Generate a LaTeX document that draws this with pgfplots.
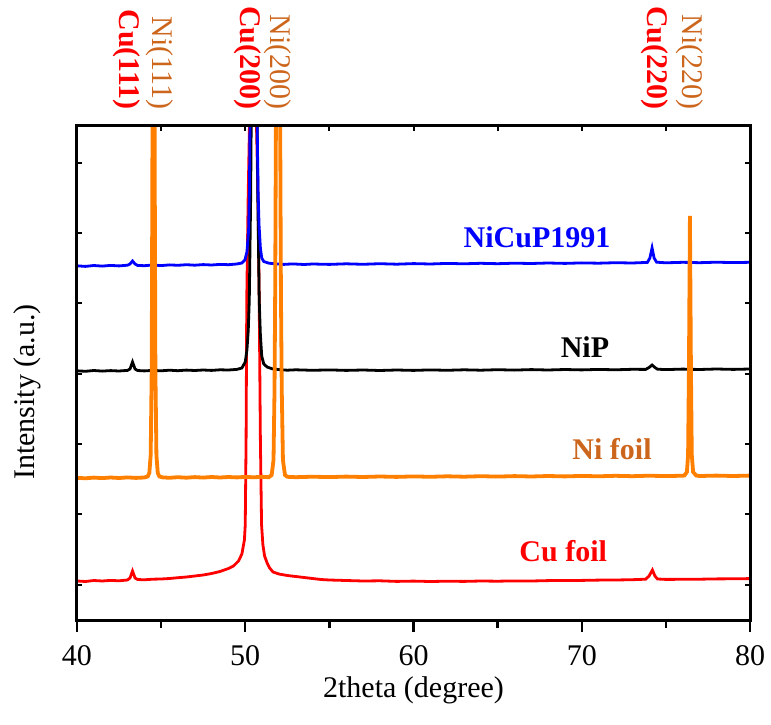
\documentclass[border=0pt]{standalone}
\usepackage{fontspec}
\setmainfont{Liberation Serif}
\usepackage{pgfplots}
\pgfplotsset{compat=1.18}
\definecolor{cured}{RGB}{255,0,0}
\definecolor{niorange}{RGB}{255,128,0}
\definecolor{nilab}{RGB}{205,102,29}
\definecolor{cublue}{RGB}{0,0,255}
\newcommand\fs{\fontsize{15}{18}\selectfont}
\begin{document}
\begin{tikzpicture}
\begin{axis}[
  scale only axis, width=336.5pt, height=247pt,
  xmin=40, xmax=80, ymin=0, ymax=494,
  xtick={40,50,...,80}, minor x tick num=1,
  xtick pos=left, tick align=outside,
  major tick length=6pt, minor tick length=4pt,
  ytick=\empty,
  axis line style={line width=1.5pt},
  every tick/.style={black, line width=1.2pt},
  /pgf/number format/assume math mode=true,
  tick label style={font=\fs},
  xticklabel style={yshift=-3pt},
  xlabel={2theta (degree)},
  ylabel={Intensity (a.u.)},
  xlabel style={at={(axis description cs:0.5,0)}, anchor=center, yshift=-35pt, font=\fs},
  ylabel style={at={(axis description cs:-0.0743,0.4615)}, anchor=center, font=\fs},
  clip=true,
]
% Cu foil
\addplot[cured, line width=1.4pt] coordinates {
(40,39) (40.5,38.5) (41,39.5) (41.5,39) (42,39.6) (42.5,39.2) (43,40) (43.15,42) (43.3,49) (43.45,42) (43.6,40.5)
(44,40.2) (44.5,40.8) (45,41) (45.5,41.5) (46,42.3) (46.5,43) (47,44) (47.5,45) (48,46.5) (48.5,48.5) (49,51.5)
(49.3,54) (49.6,59) (49.8,66) (49.95,80) (50.0,95) (50.05,180) (50.09,320) (50.17,420) (50.25,494) (50.35,620)
(50.46,700) (50.57,620) (50.67,494) (50.76,420) (50.83,320) (50.9,180) (50.97,95) (51.05,75) (51.15,64)
(51.3,57) (51.45,52) (51.65,48) (52,46) (52.5,44.5) (53,43.5) (53.5,42.5) (54,41.5) (54.5,40.5) (55,40)
(56,39.5) (57,39) (58,39.2) (59,38.6) (60,38.9) (61,38.5) (62,38.8) (63,38.6) (64,39) (65,38.8) (66,39.1)
(67,39) (68,39.4) (69,39.5) (70,39.6) (71,39.9) (72,40) (73,40.3) (73.8,40.8) (74.0,44) (74.2,50) (74.35,44)
(74.5,41) (75,40.6) (76,40.7) (77,40.8) (78,41.1) (79,41.2) (80,41.4)
};
% NiP
\addplot[black, line width=1.4pt] coordinates {
(40,249.2) (40.5,248.7) (41,249.5) (41.5,248.9) (42,249.4) (42.5,249) (43,249.6) (43.15,251) (43.3,258) (43.45,251)
(43.6,249.5) (44,249.1) (44.5,249.6) (45,249.2) (45.5,249.8) (46,249.3) (46.5,249.9) (47,249.5) (47.5,250)
(48,249.6) (48.5,250.2) (49,250) (49.5,250.6) (49.8,252) (50.0,258) (50.1,270) (50.18,290) (50.24,320)
(50.32,420) (50.4,600) (50.53,800) (50.66,600) (50.75,420) (50.83,320) (50.9,285) (50.98,264) (51.1,256)
(51.3,253) (51.6,251.2) (52,250.4) (52.5,249.8) (53,250.2) (54,249.7) (55,250.1) (56,249.6) (57,250) (58,249.5)
(59,250) (60,249.6) (61,250.1) (62,249.7) (63,250.2) (64,249.8) (65,250.3) (66,249.9) (67,250.4) (68,250)
(69,250.5) (70,250.1) (71,250.6) (72,250.2) (73,250.7) (73.8,250.6) (74.0,252.5) (74.18,255) (74.35,252.5)
(74.5,250.8) (75,250.4) (76,250.9) (77,250.5) (78,251) (79,250.6) (80,251)
};
% NiCuP1991
\addplot[cublue, line width=1.4pt] coordinates {
(40,354.2) (40.5,353.6) (41,354.5) (41.5,353.9) (42,354.6) (42.5,354.1) (43,354.8) (43.15,356) (43.3,359) (43.45,356)
(43.6,354.6) (44,354.3) (44.5,355) (45,354.4) (45.5,355.1) (46,354.7) (46.5,355.3) (47,354.8) (47.5,355.4)
(48,355) (48.5,355.6) (49,355.3) (49.5,356) (49.8,357) (49.98,360) (50.1,368) (50.2,390) (50.25,430) (50.28,494)
(50.35,650) (50.5,900) (50.65,650) (50.71,494) (50.76,430) (50.82,395) (50.9,372) (50.98,362) (51.1,358.5)
(51.4,356.8) (51.8,356.2) (52.3,355.6) (52.8,356.1) (53.5,355.5) (54,356) (55,355.6) (56,356.2) (57,355.7)
(58,356.3) (59,355.8) (60,356.4) (61,356) (62,356.6) (63,356.2) (64,356.7) (65,356.3) (66,356.8) (67,356.5)
(68,357) (69,356.6) (70,357.1) (71,356.8) (72,357.3) (73,357) (73.9,357.6) (74.05,362) (74.18,372) (74.3,362)
(74.45,357.8) (75,357.2) (76,357.7) (77,357.3) (78,357.8) (79,357.4) (80,357.7)
};
% Ni foil
\addplot[niorange, line width=1.9pt] coordinates {
(40,142.2) (40.5,141.7) (41,142.4) (41.5,141.9) (42,142.5) (42.5,142) (43,142.6) (43.5,142.1) (44,142.5)
(44.2,143.5) (44.3,147) (44.38,165) (44.44,250) (44.48,450) (44.55,1000) (44.62,450) (44.66,250) (44.72,165)
(44.8,147) (44.9,143.5) (45.1,142.6) (45.5,142.2) (46,142.8) (46.5,142.3) (47,142.9) (47.5,142.4) (48,143)
(48.5,142.5) (49,143) (49.5,142.6) (50,143.1) (50.5,142.7) (51,143.2) (51.4,142.8) (51.57,145) (51.68,160)
(51.74,230) (51.78,330) (51.85,600) (51.95,900) (52.05,600) (52.12,330) (52.17,230) (52.24,160) (52.36,145)
(52.5,143.2) (53,142.8) (54,143.3) (55,142.9) (56,143.4) (57,143) (58,143.5) (59,143.1) (60,143.6) (61,143.2)
(62,143.7) (63,143.3) (64,143.8) (65,143.4) (66,143.9) (67,143.5) (68,144) (69,143.6) (70,144.1) (71,143.7)
(72,144.2) (73,143.8) (74,144.3) (75,143.9) (76,144.3) (76.1,144.5) (76.25,148) (76.32,165) (76.37,250)
(76.43,404) (76.49,250) (76.54,165) (76.62,148) (76.8,144.5) (77,144) (78,144.4) (79,144) (80,144.4)
};
\coordinate (SW) at (rel axis cs:0,0);
\coordinate (NE) at (rel axis cs:1,1);
\end{axis}
\begin{axis}[
  scale only axis, width=336.5pt, height=247pt,
  xmin=40, xmax=80, ymin=0, ymax=494,
  xtick={40,45,...,80}, xtick pos=right, xticklabels={},
  ytick={35.5,105.8,176.1,246.4,316.7,387,457.3}, yticklabels={}, ytick pos=both,
  tick align=inside, major tick length=2.5pt,
  axis line style={line width=1.5pt},
  every tick/.style={black, line width=1pt},
  clip=false,
]
\node[font=\fs\bfseries, text=cublue] at (axis cs:67.34,383) {NiCuP1991};
\node[font=\fs\bfseries, text=black] at (axis cs:70.19,273) {NiP};
\node[font=\fs\bfseries, text=nilab] at (axis cs:71.8,171) {Ni foil};
\node[font=\fs\bfseries, text=cured] at (axis cs:68.9,69) {Cu foil};
\node[font=\fs\bfseries, text=cured, rotate=-90, anchor=east, inner sep=0pt] at ([yshift=8pt]axis cs:42.97,494) {Cu(111)};
\node[font=\fs, text=nilab, rotate=-90, anchor=east, inner sep=0pt] at ([yshift=8pt]axis cs:44.93,494) {Ni(111)};
\node[font=\fs\bfseries, text=cured, rotate=-90, anchor=east, inner sep=0pt] at ([yshift=8pt]axis cs:50.16,494) {Cu(200)};
\node[font=\fs, text=nilab, rotate=-90, anchor=east, inner sep=0pt] at ([yshift=8pt]axis cs:51.95,494) {Ni(200)};
\node[font=\fs\bfseries, text=cured, rotate=-90, anchor=east, inner sep=0pt] at ([yshift=8pt]axis cs:74.35,494) {Cu(220)};
\node[font=\fs, text=nilab, rotate=-90, anchor=east, inner sep=0pt] at ([yshift=8pt]axis cs:76.43,494) {Ni(220)};
\end{axis}
\pgfresetboundingbox
\path ([xshift=-38.5pt,yshift=-52pt]SW) rectangle ([xshift=10.5pt,yshift=63pt]NE);
\end{tikzpicture}
\end{document}
